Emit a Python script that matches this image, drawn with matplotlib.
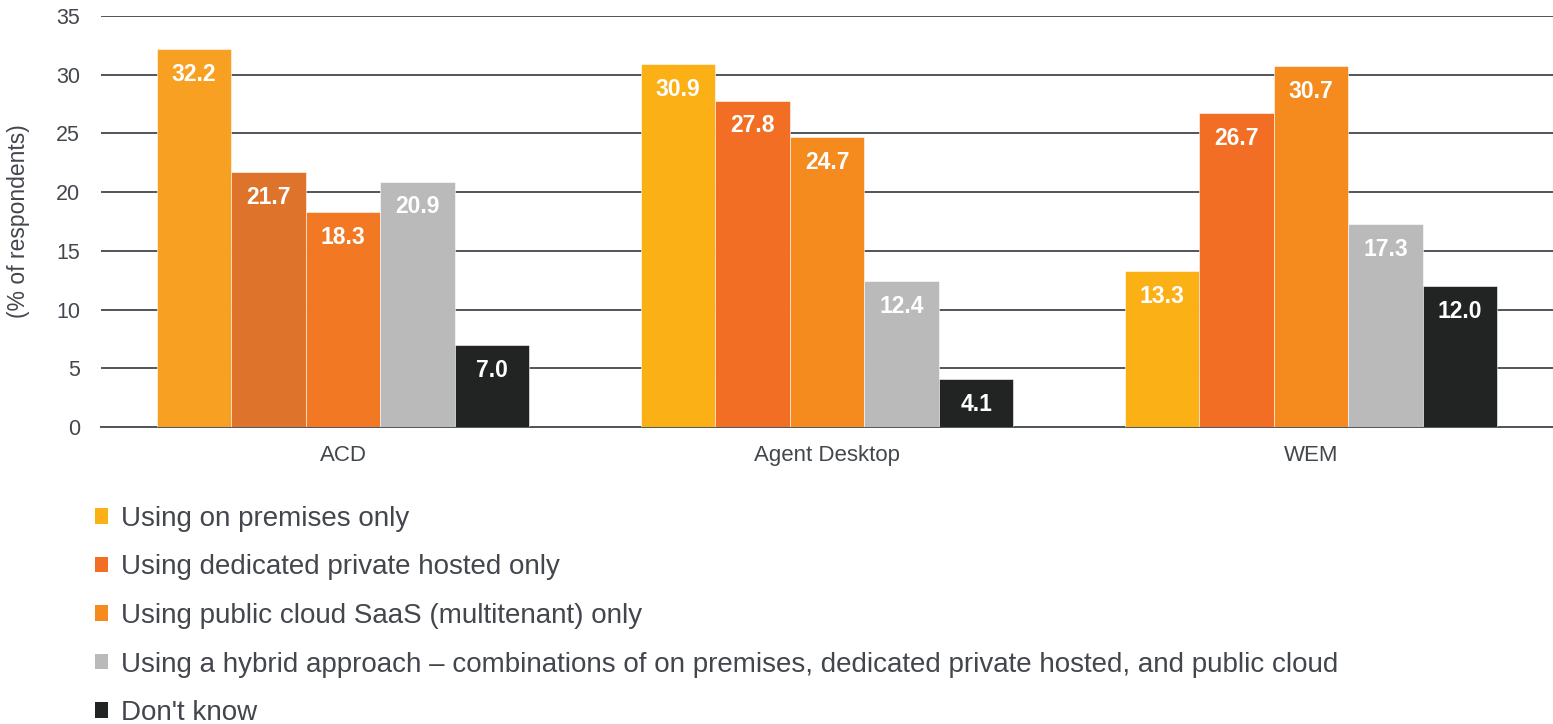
import matplotlib.pyplot as plt
from matplotlib.patches import Patch
import numpy as np

plt.rcParams['font.family'] = ['Liberation Sans', 'DejaVu Sans']

categories = ['ACD', 'Agent Desktop', 'WEM']
series = [
    'Using on premises only',
    'Using dedicated private hosted only',
    'Using public cloud SaaS (multitenant) only',
    'Using a hybrid approach \u2013 combinations of on premises, dedicated private hosted, and public cloud',
    "Don't know",
]
on_premises = [32.2, 30.9, 13.3]
private_hosted = [21.7, 27.8, 26.7]
public_cloud = [18.3, 24.7, 30.7]
hybrid = [20.9, 12.4, 17.3]
dont_know = [7.0, 4.1, 12.0]
values = [on_premises, private_hosted, public_cloud, hybrid, dont_know]

colors = ['#FBB016', '#F16E24', '#F58A1F', '#BBBABB', '#222423']
# ACD group is drawn in slightly different shades in the original
acd_colors = ['#F7A021', '#DE732B', '#F27823', '#BBBABB', '#222423']
text_color = '#43474d'
grid_color = '#50555b'

fig = plt.figure(figsize=(15.53, 7.24), dpi=100)
ax = fig.add_axes([101 / 1553, 1 - 427 / 724, 1452 / 1553, 411 / 724])

x = np.arange(len(categories))
w = 0.154
n = len(series)
for i, (vals, col) in enumerate(zip(values, colors)):
    pos = x + (i - (n - 1) / 2) * w
    cols = [acd_colors[i]] + [col] * (len(categories) - 1)
    bars = ax.bar(pos, vals, width=w, color=cols, zorder=3,
                  edgecolor='white', linewidth=0.4)
    for b, v in zip(bars, vals):
        ax.text(b.get_x() + b.get_width() / 2, v - 2.15, f'{v:.1f}',
                ha='center', va='center', color='white', fontsize=16.5,
                fontweight='bold', zorder=4)

ax.set_xlim(-0.5, 2.5)
ax.set_ylim(0, 35)
ax.set_yticks(range(0, 36, 5))
ax.yaxis.grid(True, color=grid_color, linewidth=1.4, zorder=0)
ax.set_axisbelow(True)
for s in ['top', 'right', 'left']:
    ax.spines[s].set_visible(False)
ax.spines['bottom'].set_color(grid_color)
ax.spines['bottom'].set_linewidth(1.4)
ax.tick_params(axis='y', length=0, pad=15, labelsize=15.5, labelcolor=text_color)
ax.tick_params(axis='x', length=0, pad=13, labelsize=16, labelcolor=text_color)
ax.set_xticks(x)
ax.set_xticklabels(categories)
ax.set_ylabel('(% of respondents)', fontsize=16.5, color=text_color, labelpad=19)

handles = [Patch(facecolor=c, edgecolor='none') for c in colors]
leg = fig.legend(handles, series, loc='upper left',
                 bbox_to_anchor=(70 / 1553, 1 - 481 / 724),
                 frameon=False, fontsize=20, labelspacing=0.81,
                 handlelength=0.47, handleheight=0.47, handletextpad=0.45,
                 labelcolor=text_color)

fig.savefig('out.png', dpi=100)
